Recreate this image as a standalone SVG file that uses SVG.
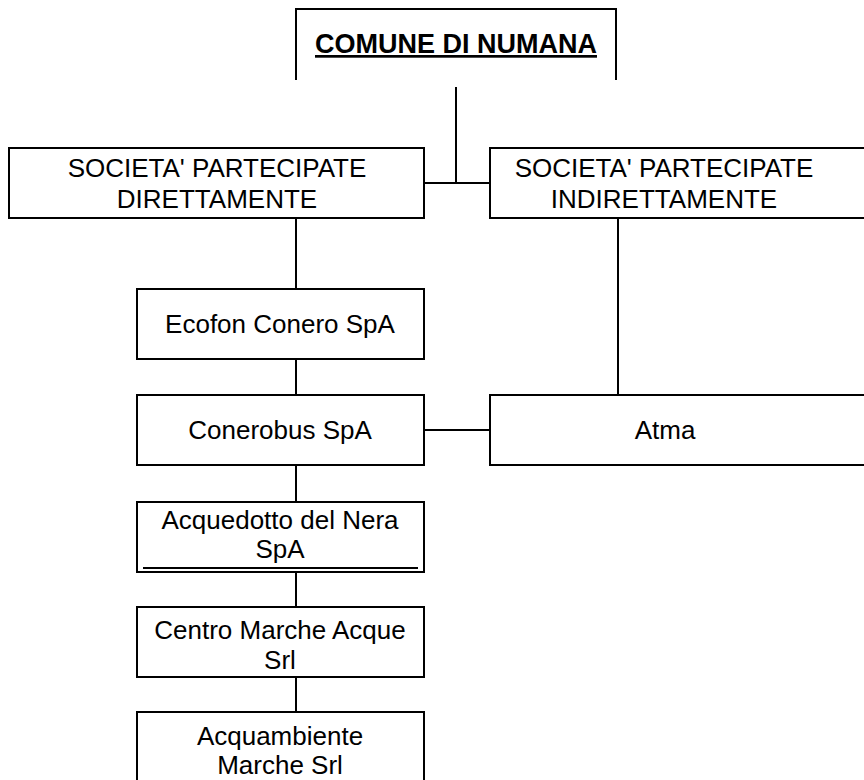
<svg xmlns="http://www.w3.org/2000/svg" width="864" height="780" viewBox="0 0 864 780">
<style>
.box{fill:#fff;stroke:#000;stroke-width:2}
.ln{stroke:#000;stroke-width:2;fill:none}
text{font-family:"Liberation Sans",Arial,sans-serif;font-size:26px;fill:#000;text-anchor:middle}
.title{font-weight:bold;font-size:27px;text-decoration:underline}
</style>
<rect width="864" height="780" fill="#fff"/>
<g id="connectors">
<line class="ln" x1="456" y1="87" x2="456" y2="183"/>
<line class="ln" x1="424" y1="183" x2="490" y2="183"/>
<line class="ln" x1="296" y1="218" x2="296" y2="289"/>
<line class="ln" x1="618" y1="218" x2="618" y2="395"/>
<line class="ln" x1="296" y1="359" x2="296" y2="395"/>
<line class="ln" x1="424" y1="430" x2="490" y2="430"/>
<line class="ln" x1="296" y1="465" x2="296" y2="502"/>
<line class="ln" x1="296" y1="572" x2="296" y2="607"/>
<line class="ln" x1="296" y1="677" x2="296" y2="712"/>
</g>
<g id="comune">
<path class="ln" d="M296 80 V9 H616 V80"/>
<text class="title" x="456" y="53">COMUNE DI NUMANA</text>
</g>
<g id="diretta">
<rect class="box" x="9" y="148" width="415" height="70"/>
<text x="217" y="177">SOCIETA' PARTECIPATE</text>
<text x="217" y="208">DIRETTAMENTE</text>
</g>
<g id="indiretta">
<rect class="box" x="490" y="148" width="380" height="70"/>
<text x="664" y="177">SOCIETA' PARTECIPATE</text>
<text x="664" y="208">INDIRETTAMENTE</text>
</g>
<g id="ecofon">
<rect class="box" x="137" y="289" width="287" height="70"/>
<text x="280" y="333">Ecofon Conero SpA</text>
</g>
<g id="conerobus">
<rect class="box" x="137" y="395" width="287" height="70"/>
<text x="280" y="439">Conerobus SpA</text>
</g>
<g id="atma">
<rect class="box" x="490" y="395" width="380" height="70"/>
<text x="665" y="439">Atma</text>
</g>
<g id="acquedotto">
<rect class="box" x="137" y="502" width="287" height="70"/>
<line class="ln" x1="143" y1="568" x2="418" y2="568"/>
<text x="280" y="529">Acquedotto del Nera</text>
<text x="280" y="558">SpA</text>
</g>
<g id="centro">
<rect class="box" x="137" y="607" width="287" height="70"/>
<text x="280" y="639">Centro Marche Acque</text>
<text x="280" y="669">Srl</text>
</g>
<g id="acquambiente">
<rect class="box" x="137" y="712" width="287" height="80"/>
<text x="280" y="745">Acquambiente</text>
<text x="280" y="774">Marche Srl</text>
</g>
</svg>
